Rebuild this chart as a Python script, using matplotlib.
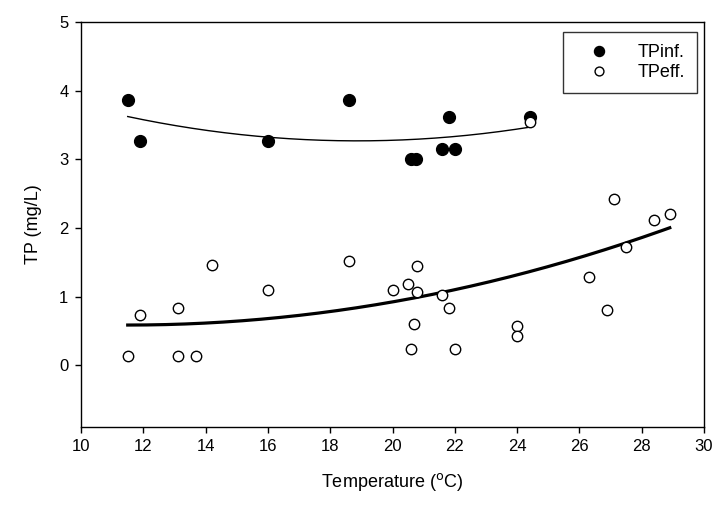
import numpy as np
import matplotlib.pyplot as plt

plt.rcParams['font.family'] = ['Liberation Sans', 'DejaVu Sans']

# influent TP
inf_temp = [11.5, 11.9, 16.0, 18.6, 20.6, 20.75, 21.6, 21.8, 22.0, 24.4]
inf_tp = [3.87, 3.27, 3.27, 3.87, 3.0, 3.0, 3.15, 3.62, 3.15, 3.62]

# effluent TP
eff_temp = [11.5, 11.9, 13.1, 13.1, 13.7, 14.2, 16.0, 18.6, 20.0, 20.5, 20.8, 20.8, 20.7,
            20.6, 21.6, 21.8, 22.0, 24.0, 24.0, 24.4, 26.3, 26.9, 27.1, 27.5, 28.4, 28.9]
eff_tp = [0.13, 0.73, 0.84, 0.13, 0.13, 1.46, 1.10, 1.52, 1.10, 1.19, 1.45, 1.07, 0.60,
          0.24, 1.03, 0.84, 0.24, 0.57, 0.43, 3.55, 1.28, 0.80, 2.42, 1.72, 2.11, 2.20]

# quadratic regression lines
p_inf = np.polyfit(inf_temp, inf_tp, 2)
p_eff = np.polyfit(eff_temp, eff_tp, 2)
xi = np.linspace(min(inf_temp), max(inf_temp), 200)
xe = np.linspace(min(eff_temp), max(eff_temp), 200)

fig = plt.figure(figsize=(7.27, 5.07), dpi=100)
ax = fig.add_axes([0.1114, 0.1578, 0.857, 0.7988])

ax.plot(xi, np.polyval(p_inf, xi), color='black', lw=1.0)
ax.plot(xe, np.polyval(p_eff, xe), color='black', lw=2.3)

ax.plot(inf_temp, inf_tp, 'o', color='black', ms=8.5, ls='none', label='TPinf.')
ax.plot(eff_temp, eff_tp, 'o', mfc='white', mec='black', mew=1.0, ms=7.5, ls='none',
        label='TPeff.')

ax.set_xlim(10, 30)
ax.set_ylim(-0.9, 5)
ax.set_xticks(range(10, 31, 2))
ax.set_yticks(range(0, 6))
ax.tick_params(direction='out', length=4, width=1, labelsize=12, pad=5)
for s in ax.spines.values():
    s.set_linewidth(1)

ax.set_xlabel('Temperature ($^{\\mathrm{o}}$C)', fontsize=13, labelpad=12)
ax.set_ylabel('TP (mg/L)', fontsize=13, labelpad=12)

leg = ax.legend(loc='upper right', bbox_to_anchor=(0.989, 0.975), borderaxespad=0,
                fancybox=False, edgecolor='black', fontsize=13, borderpad=0.65,
                handletextpad=0.8, labelspacing=0.2, handlelength=2.7,
                markerscale=0.85)
leg.get_frame().set_linewidth(1)

plt.savefig('out.png', dpi=100)
